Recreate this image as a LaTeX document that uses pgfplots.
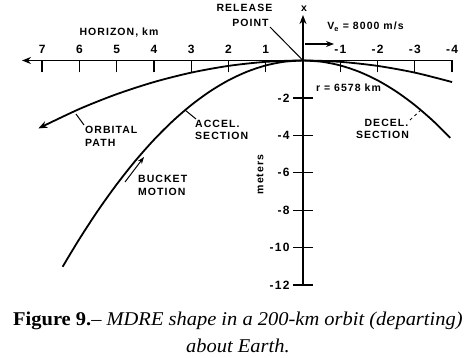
\documentclass[border=0pt]{standalone}
\usepackage{pgfplots}
\pgfplotsset{compat=1.18}
\usepackage{fontspec}
\setmainfont{Liberation Sans}
\newfontfamily\lab[LetterSpace=10,UprightFont=* Bold]{Liberation Sans}
\newfontfamily\capfont[FakeStretch=1.05]{Liberation Serif}
\usetikzlibrary{arrows.meta}
\newcommand{\lf}{\fontsize{10.5}{12}\lab}
\begin{document}
\begin{tikzpicture}
\useasboundingbox (0,0) rectangle (475pt,357pt);
\pgfplotsset{base/.style={at={(303pt,296.5pt)}, anchor=origin, x=37.27pt, y=18.71pt,
  x dir=reverse, xmin=-4, xmax=7.54, ymin=-12, ymax=2.43, clip=false,
  every tick/.style={line width=1.3pt, black}}}
\begin{axis}[base, axis x line=middle, axis y line=none,
  xtick={-4,-3,-2,-1,1,2,3,4,5,6,7}, xticklabels={-4,-3,-2,-1,1,2,3,4,5,6,7},
  tick align=outside, major tick length=12pt,
  x axis line style={line width=1.8pt, -{Stealth[length=9pt,width=7pt]}},
  xticklabel style={anchor=south, yshift=15.5pt, font=\fontsize{12}{12}\lab}, ytick=\empty]
\end{axis}
\begin{axis}[base, axis y line=middle, axis x line=none,
  ytick={-12,-10,-8,-6,-4,-2}, yticklabels={-12,-10,-8,-6,-4,-2},
  tick align=center, major tick length=20pt,
  y axis line style={line width=1.8pt, -{Stealth[length=9pt,width=7pt]}},
  yticklabel style={anchor=east, font=\fontsize{12}{12}\lab}, xtick=\empty]
% orbital path
\addplot[black, line width=1.8pt, smooth, -{Stealth[length=9pt,width=7pt]}] coordinates {
 (-4,-1.152) (-3,-0.648) (-2,-0.288) (-1,-0.072) (0,0) (1,-0.072) (2,-0.288) (3,-0.648)
 (4,-1.152) (5,-1.8) (6,-2.592) (7.1,-3.63)};
% accel section
\addplot[black, line width=1.8pt, smooth] coordinates {
 (0,0) (0.5,-0.066) (1,-0.265) (1.5,-0.596) (2,-1.06) (2.5,-1.656) (3,-2.385) (3.5,-3.246)
 (4,-4.24) (4.5,-5.366) (5,-6.625) (5.5,-8.016) (6,-9.54) (6.45,-11.025)};
% decel section
\addplot[black, line width=1.8pt, smooth] coordinates {
 (0,0) (-0.5,-0.066) (-1,-0.265) (-1.5,-0.596) (-2,-1.06) (-2.5,-1.656) (-3,-2.385)
 (-3.5,-3.246) (-3.95,-4.135)};
\end{axis}
% annotations
\node[font=\lf] at (119pt,324pt) {HORIZON, km};
\node[font=\lf] at (244.5pt,349pt) {RELEASE};
\node[font=\lf] at (250.5pt,334pt) {POINT};
\draw[line width=1pt] (270pt,330pt) -- (303pt,296.5pt);
\node[font=\lf] at (304pt,348pt) {x};
\node[font=\lf] at (365.5pt,330pt) {V\textsubscript{e} = 8000 m/s};
\draw[line width=1.2pt, -{Stealth[length=8pt,width=6pt]}] (305pt,313pt) -- (334pt,313pt);
\node[font=\lf] at (348.5pt,269pt) {r = 6578 km};
\node[font=\lf, rotate=90] at (260pt,182.5pt) {meters};
\node[font=\lf] at (386.5pt,234pt) {DECEL.};
\node[font=\lf] at (382.5pt,222pt) {SECTION};
\draw[line width=0.8pt, dashed] (410pt,237pt) -- (422pt,248pt);
\node[font=\lf, anchor=west, inner sep=0pt] at (195pt,233pt) {ACCEL.};
\node[font=\lf, anchor=west, inner sep=0pt] at (195pt,221pt) {SECTION};
\draw[line width=1pt] (185pt,247pt) -- (196pt,238pt);
\node[font=\lf, anchor=west, inner sep=0pt] at (85pt,227pt) {ORBITAL};
\node[font=\lf, anchor=west, inner sep=0pt] at (85pt,214pt) {PATH};
\draw[line width=1pt] (76pt,243pt) -- (84pt,232pt);
\node[font=\lf, anchor=west, inner sep=0pt] at (138pt,178pt) {BUCKET};
\node[font=\lf, anchor=west, inner sep=0pt] at (138pt,165pt) {MOTION};
\draw[line width=1pt, -{Stealth[length=7pt,width=5pt]}] (125pt,175pt) -- (144pt,200pt);
\node[font=\fontsize{19.5}{20}\capfont, anchor=base west, inner sep=0pt] at (13pt,32pt)
  {\textbf{Figure 9.}\textendash\ \textit{MDRE shape in a 200-km orbit (departing)}};
\node[font=\fontsize{19.5}{20}\capfont, anchor=base, inner sep=0pt] at (238pt,5pt)
  {\textit{about Earth.}};
\end{tikzpicture}
\end{document}
